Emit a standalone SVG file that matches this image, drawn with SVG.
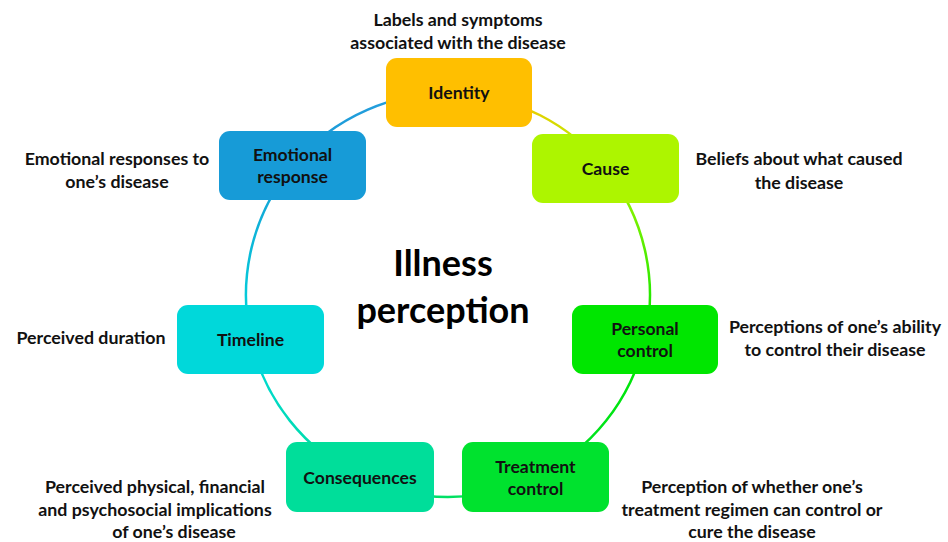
<svg xmlns="http://www.w3.org/2000/svg" width="948" height="542" viewBox="0 0 948 542">
  <style>
    .lbl { font-family: Lato, "Open Sans", "Liberation Sans", sans-serif; font-weight: bold; font-size: 17.6px; fill: #111; text-anchor: middle; dominant-baseline: central; }
    .note { font-family: Lato, "Open Sans", "Liberation Sans", sans-serif; font-weight: bold; font-size: 17.8px; fill: #111; text-anchor: middle; dominant-baseline: central; }
    .title { font-family: Lato, "Open Sans", "Liberation Sans", sans-serif; font-weight: bold; font-size: 36px; fill: #000; text-anchor: middle; dominant-baseline: central; }
    .arc { fill: none; stroke-width: 2.5; }
  </style>
  <defs>
    <linearGradient id="g1" gradientUnits="userSpaceOnUse" x1="458.9" y1="93.3" x2="605.4" y2="168.4"><stop offset="0.2" stop-color="#FFBF00"/><stop offset="1" stop-color="#ADF500"/></linearGradient>
    <linearGradient id="g2" gradientUnits="userSpaceOnUse" x1="605.4" y1="168.4" x2="645" y2="339.4"><stop offset="0" stop-color="#ADF500"/><stop offset="1" stop-color="#00E600"/></linearGradient>
    <linearGradient id="g3" gradientUnits="userSpaceOnUse" x1="645" y1="339.4" x2="535.6" y2="477"><stop offset="0" stop-color="#00E600"/><stop offset="1" stop-color="#00E22E"/></linearGradient>
    <linearGradient id="g4" gradientUnits="userSpaceOnUse" x1="535.6" y1="477" x2="360.1" y2="476.9"><stop offset="0" stop-color="#00E22E"/><stop offset="1" stop-color="#00DE9A"/></linearGradient>
    <linearGradient id="g5" gradientUnits="userSpaceOnUse" x1="360.1" y1="476.9" x2="250.9" y2="339.4"><stop offset="0" stop-color="#00DE9A"/><stop offset="1" stop-color="#00D8DA"/></linearGradient>
    <linearGradient id="g6" gradientUnits="userSpaceOnUse" x1="250.9" y1="339.4" x2="292.8" y2="165.7"><stop offset="0" stop-color="#00D8DA"/><stop offset="1" stop-color="#179BD7"/></linearGradient>
    <linearGradient id="g7" gradientUnits="userSpaceOnUse" x1="292.8" y1="165.7" x2="458.9" y2="93.3"><stop offset="0" stop-color="#179BD7"/><stop offset="1" stop-color="#2CA0E0"/></linearGradient>
  </defs>

  <!-- ring connecting the seven components -->
  <g id="connectors">
    <path class="arc" stroke="url(#g1)" d="M458.9,93.3 A202,202 0 0 1 605.4,168.4"/>
    <path class="arc" stroke="url(#g2)" d="M605.4,168.4 A202,202 0 0 1 645,339.4"/>
    <path class="arc" stroke="url(#g3)" d="M645,339.4 A202,202 0 0 1 535.6,477"/>
    <path class="arc" stroke="url(#g4)" d="M535.6,477 A202,202 0 0 1 360.1,476.9"/>
    <path class="arc" stroke="url(#g5)" d="M360.1,476.9 A202,202 0 0 1 250.9,339.4"/>
    <path class="arc" stroke="url(#g6)" d="M250.9,339.4 A202,202 0 0 1 292.8,165.7"/>
    <path class="arc" stroke="url(#g7)" d="M292.8,165.7 A202,202 0 0 1 458.9,93.3"/>
  </g>

  <!-- centre title -->
  <g id="title">
    <text class="title" x="443" y="262">Illness</text>
    <text class="title" x="443" y="309">perception</text>
  </g>

  <g id="identity" class="node">
    <rect x="386" y="58" width="146" height="69" rx="11" fill="#FFBF00"/>
    <text class="lbl" x="459" y="92.5">Identity</text>
  </g>
  <g id="cause" class="node">
    <rect x="532" y="134" width="147" height="69" rx="11" fill="#ADF500"/>
    <text class="lbl" x="605.5" y="168.5">Cause</text>
  </g>
  <g id="personal-control" class="node">
    <rect x="572" y="305" width="146" height="69" rx="11" fill="#00E600"/>
    <text class="lbl" x="645" y="328.5">Personal</text>
    <text class="lbl" x="645" y="350.5">control</text>
  </g>
  <g id="treatment-control" class="node">
    <rect x="462" y="442" width="147" height="70" rx="11" fill="#00E22E"/>
    <text class="lbl" x="535.5" y="466">Treatment</text>
    <text class="lbl" x="535.5" y="488">control</text>
  </g>
  <g id="consequences" class="node">
    <rect x="286" y="442" width="148" height="70" rx="11" fill="#00DE9A"/>
    <text class="lbl" x="360" y="477">Consequences</text>
  </g>
  <g id="timeline" class="node">
    <rect x="177" y="305" width="147" height="69" rx="11" fill="#00D8DA"/>
    <text class="lbl" x="250.5" y="339.5">Timeline</text>
  </g>
  <g id="emotional-response" class="node">
    <rect x="219" y="131" width="147" height="69" rx="11" fill="#179BD7"/>
    <text class="lbl" x="292.5" y="154">Emotional</text>
    <text class="lbl" x="292.5" y="176">response</text>
  </g>

  <!-- descriptions beside each component -->
  <g id="notes">
    <text class="note" x="458" y="19">Labels and symptoms</text>
    <text class="note" x="458" y="42">associated with the disease</text>
    <text class="note" x="799" y="158">Beliefs about what caused</text>
    <text class="note" x="799" y="182">the disease</text>
    <text class="note" x="835" y="326">Perceptions of one’s ability</text>
    <text class="note" x="835" y="349">to control their disease</text>
    <text class="note" x="752" y="486">Perception of whether one’s</text>
    <text class="note" x="752" y="509">treatment regimen can control or</text>
    <text class="note" x="752" y="531">cure the disease</text>
    <text class="note" x="155" y="486">Perceived physical, financial</text>
    <text class="note" x="155" y="509">and psychosocial implications</text>
    <text class="note" x="174" y="531">of one’s disease</text>
    <text class="note" x="91" y="337">Perceived duration</text>
    <text class="note" x="117" y="158">Emotional responses to</text>
    <text class="note" x="117" y="181">one’s disease</text>
  </g>
</svg>
